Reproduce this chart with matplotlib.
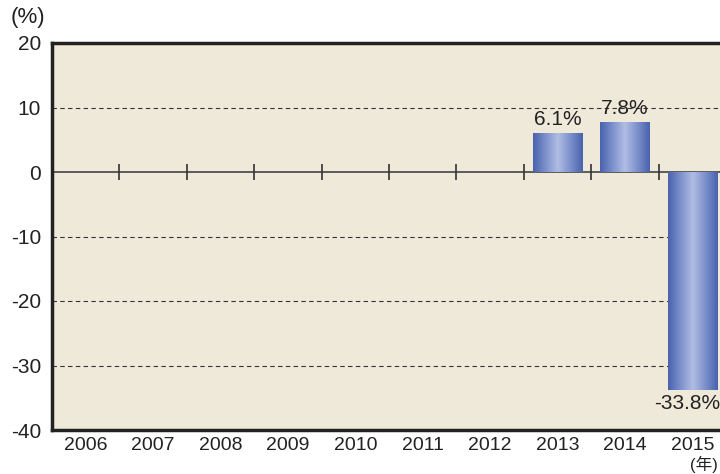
import numpy as np
import matplotlib.pyplot as plt
from matplotlib.colors import LinearSegmentedColormap

plt.rcParams['font.family'] = ['Liberation Sans', 'Noto Sans CJK JP', 'DejaVu Sans']

years = ['2006', '2007', '2008', '2009', '2010', '2011', '2012', '2013', '2014', '2015']
values = [np.nan, np.nan, np.nan, np.nan, np.nan, np.nan, np.nan, 6.1, 7.8, -33.8]
labels = ['', '', '', '', '', '', '', '6.1%', '7.8%', '-33.8%']
yticks = [20, 10, 0, -10, -20, -30, -40]

fig = plt.figure(figsize=(7.2, 4.74), dpi=100)
ax = fig.add_axes([52/720, 1-430/474, 674/720, 387/474])
ax.set_facecolor('#efe9da')

x = np.arange(len(years))
ax.set_xlim(-0.5, len(years) - 0.5)
ax.set_ylim(-40, 20)

cmap = LinearSegmentedColormap.from_list('barg', ['#4762ad', '#7d90cc', '#b0bde4', '#7d90cc', '#4762ad'])
grad = np.linspace(0, 1, 256).reshape(1, -1)

bars = ax.bar(x, np.nan_to_num(values), width=0.73, color='none', edgecolor='none', zorder=3)
for b, v, lab in zip(bars, values, labels):
    if np.isnan(v):
        continue
    x0, w = b.get_x(), b.get_width()
    y0, h = b.get_y(), b.get_height()
    im = ax.imshow(grad, cmap=cmap, aspect='auto', extent=(x0, x0 + w, y0, y0 + h),
                   zorder=3, interpolation='bicubic')
    im.set_clip_path(b)
    cx = x0 + w / 2
    if v >= 0:
        ax.text(cx, v + 0.6, lab, ha='center', va='bottom', fontsize=15, color='#222222', zorder=4)
    else:
        # nudged left a little so it stays inside the picture
        ax.text(cx - 0.08, v - 0.6, lab, ha='center', va='top', fontsize=15, color='#222222', zorder=4)

for yv in [10, -10, -20, -30]:
    ax.axhline(yv, color='#333333', lw=0.8, ls=(0, (4, 3)), zorder=1)
ax.axhline(0, color='#444444', lw=1.2, zorder=2)
bounds = x[:-1] + 0.5
ax.vlines(bounds, -1.2, 1.2, color='#333333', lw=1.2, zorder=2)

ax.set_yticks(yticks)
ax.set_yticklabels([str(t) for t in yticks], fontsize=15, color='#222222')
ax.set_xticks(x)
ax.set_xticklabels(years, fontsize=14, color='#222222')
ax.tick_params(axis='x', length=0, pad=5)
ax.tick_params(axis='y', length=0, pad=8)

for s in ['left', 'top', 'bottom']:
    ax.spines[s].set_linewidth(2.5)
    ax.spines[s].set_color('#222222')
ax.spines['right'].set_visible(False)

fig.text(28/720, 1-18/474, '(%)', ha='center', va='center', fontsize=16, color='#222222')
fig.text(704/720, 1-464/474, '(年)', ha='center', va='center', fontsize=12, color='#222222')

fig.savefig('out.png', dpi=100, facecolor='white')
